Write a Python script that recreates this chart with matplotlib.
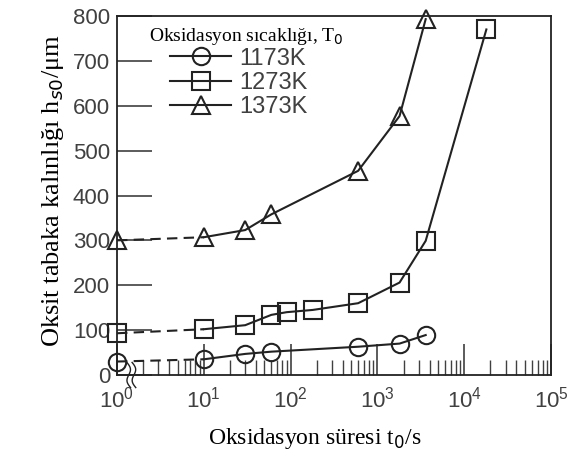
import numpy as np
import matplotlib
matplotlib.use("Agg")
from matplotlib import pyplot as plt
from matplotlib.ticker import LogLocator, NullFormatter, FixedLocator

# oxidation time t0 (s); t = 1 stands for t0 = 0 (broken axis)
t_1173 = [1, 10, 30, 60, 600, 1800, 3600]
h_1173 = [30, 35, 47, 52, 63, 70, 89]

t_1273 = [1, 10, 30, 60, 90, 180, 600, 1800, 3600, 18000]
h_1273 = [93, 102, 111, 134, 140, 145, 160, 206, 299, 770]

t_1373 = [1, 10, 30, 60, 600, 1800, 3600]
h_1373 = [300, 307, 323, 358, 455, 577, 793]

labels = ["1173K", "1273K", "1373K"]
markers = ["o", "s", "^"]
series = [(t_1173, h_1173), (t_1273, h_1273), (t_1373, h_1373)]

ink = "#222222"
tickcol = "#404040"

fig = plt.figure(figsize=(5.69, 4.57), dpi=100)
ax = fig.add_axes([117 / 569, 1 - 375 / 457, 434 / 569, 359 / 457])

for (t, h), lab, m in zip(series, labels, markers):
    # dashed segment across the axis break, solid afterwards
    ax.plot(t[:2], h[:2], color=ink, lw=1.5, ls=(0, (5, 3)))
    ax.plot(t[1:], h[1:], color=ink, lw=1.5)
    ax.plot(t, h, ls="none", marker=m, ms=12.5, mfc="none", mec=ink, mew=1.5,
            clip_on=False)

ax.set_xscale("log")
ax.set_xlim(1, 1e5)
ax.set_ylim(0, 800)

ax.xaxis.set_major_locator(LogLocator(base=10, numticks=10))
ax.xaxis.set_minor_locator(LogLocator(base=10, subs=np.arange(2, 10), numticks=20))
ax.xaxis.set_minor_formatter(NullFormatter())
ax.yaxis.set_major_locator(FixedLocator(np.arange(0, 801, 100)))

ax.tick_params(axis="x", which="major", direction="in", length=22, width=1.2,
               color=tickcol, labelsize=16, labelcolor=tickcol, pad=8,
               top=False)
ax.tick_params(axis="x", which="minor", direction="in", length=11, width=1.0,
               color=tickcol, top=False)
ax.tick_params(axis="y", which="major", direction="in", length=25, width=1.2,
               color=tickcol, labelsize=16, labelcolor=tickcol, pad=5,
               right=False)
for lbl in ax.get_xticklabels() + ax.get_yticklabels():
    lbl.set_family("Liberation Sans")

for s in ax.spines.values():
    s.set_color(ink)
    s.set_linewidth(1.3)

ax.set_xlabel("Oksidasyon süresi t$_0$/s", family="Liberation Serif",
              fontsize=17, labelpad=10)
ax.xaxis.label.set_x(0.456)
ax.set_ylabel("Oksit tabaka kalınlığı h$_{s0}$/μm", family="Liberation Serif",
              fontsize=19, labelpad=5)
ax.yaxis.label.set_y(0.515)

# axis break mark near the origin
for dx in (0.0, 0.012):
    yy = np.linspace(-0.035, 0.035, 30)
    xx = 0.027 + dx + 0.006 * np.sin(yy / 0.035 * np.pi) - yy * 0.12
    ax.plot(xx, yy, transform=ax.transAxes, color=ink, lw=1.0, clip_on=False)

handles = [plt.Line2D([], [], color=ink, lw=1.5, marker=m, ms=12.5,
                      mfc="none", mec=ink, mew=1.5) for m in markers]
leg = ax.legend(handles, labels, loc="upper left", frameon=False,
                bbox_to_anchor=(0.122, 0.912), handlelength=2.6,
                handletextpad=0.35, labelspacing=0.1, borderaxespad=0,
                borderpad=0,
                prop={"family": "Liberation Sans", "size": 17})
for txt in leg.get_texts():
    txt.set_color(tickcol)
ax.text(0.074, 0.943, "Oksidasyon sıcaklığı, T$_0$", transform=ax.transAxes,
        family="Liberation Serif", fontsize=14, va="center", ha="left")

fig.savefig("out.png", dpi=100)
